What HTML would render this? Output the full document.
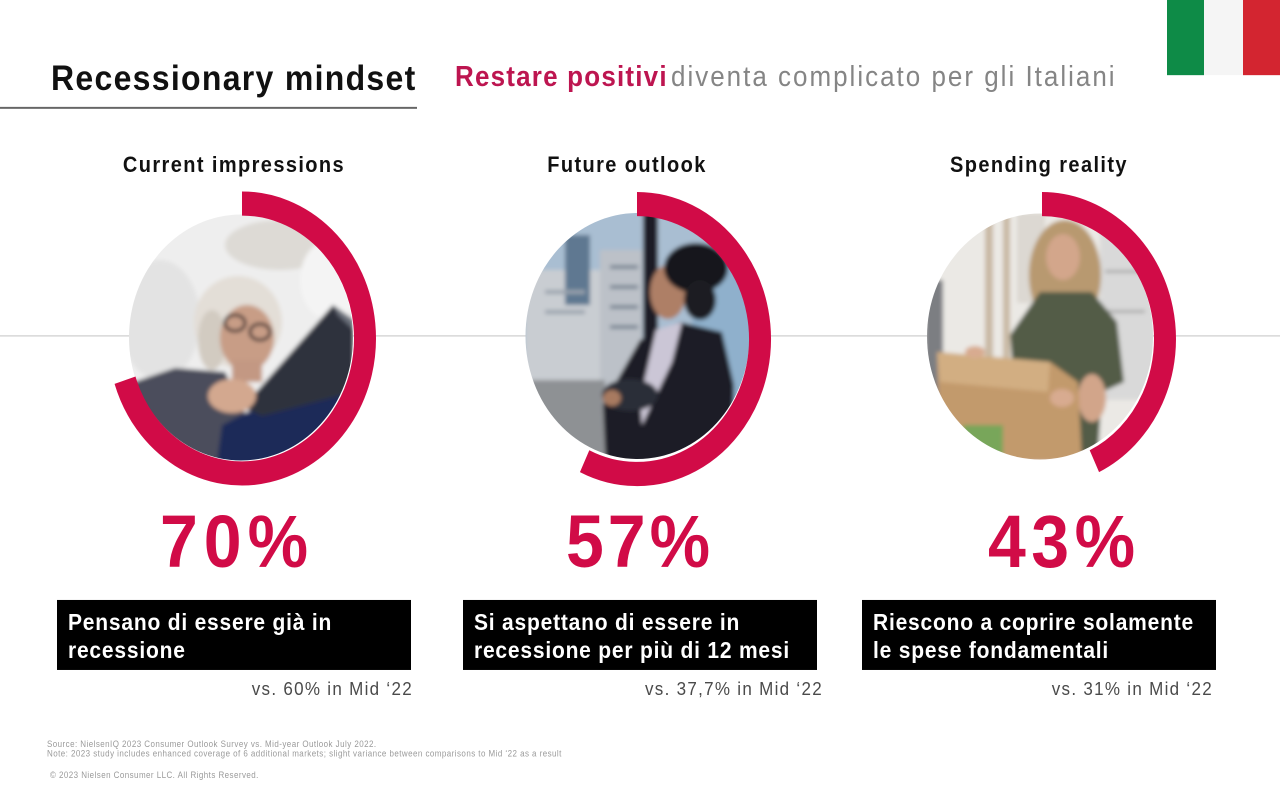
<!DOCTYPE html>
<html>
<head>
<meta charset="utf-8">
<style>
html,body{margin:0;padding:0;background:#fff;width:1280px;height:790px;overflow:hidden}
svg{display:block}
</style>
</head>
<body>
<svg width="1280" height="790" viewBox="0 0 1280 720" preserveAspectRatio="none" xmlns="http://www.w3.org/2000/svg" font-family="Liberation Sans, Arial, sans-serif">
  <defs>
    <filter id="bl" x="-10%" y="-10%" width="120%" height="120%">
      <feGaussianBlur stdDeviation="2.2"/>
    </filter>
    <clipPath id="c1"><ellipse cx="241" cy="337.5" rx="112" ry="123"/></clipPath>
    <clipPath id="c2"><ellipse cx="637.5" cy="336" rx="112" ry="123"/></clipPath>
    <clipPath id="c3"><ellipse cx="1040" cy="336.5" rx="113" ry="123"/></clipPath>
  </defs>

  <rect x="0" y="0" width="1280" height="720" fill="#ffffff"/>

  <!-- flag -->
  <rect x="1167" y="0" width="37" height="68.5" fill="#0e8b47"/>
  <rect x="1204" y="0" width="39" height="68.5" fill="#f5f5f5"/>
  <rect x="1243" y="0" width="37" height="68.5" fill="#d32530"/>

  <!-- title -->
  <text x="51" y="82" font-size="32" font-weight="bold" fill="#111" letter-spacing="1.3">Recessionary mindset</text>
  <rect x="0" y="97.4" width="417" height="1.8" fill="#666"/>
  <text x="455" y="78.4" font-size="26" font-weight="bold" fill="#bd1550" letter-spacing="1.2">Restare positivi</text>
  <text x="671" y="78.4" font-size="26" fill="#858585" letter-spacing="2">diventa complicato per gli Italiani</text>

  <!-- column headers -->
  <text x="234" y="156.8" font-size="20" font-weight="bold" fill="#111" text-anchor="middle" letter-spacing="1.4">Current impressions</text>
  <text x="627" y="156.8" font-size="20" font-weight="bold" fill="#111" text-anchor="middle" letter-spacing="1.4">Future outlook</text>
  <text x="1039" y="156.8" font-size="20" font-weight="bold" fill="#111" text-anchor="middle" letter-spacing="1.4">Spending reality</text>

  <!-- horizontal gray line -->
  <rect x="0" y="305.4" width="1280" height="1.4" fill="#d8d8d8"/>

  <!-- photos drawn in 790-space -->
  <g transform="scale(1,0.911392)">
    <!-- Photo 1 -->
    <g clip-path="url(#c1)">
      <g filter="url(#bl)">
        <rect x="120" y="205" width="250" height="270" fill="#eeeeee"/>
        <ellipse cx="280" cy="245" rx="55" ry="25" fill="#dddad5"/>
        <ellipse cx="160" cy="320" rx="40" ry="60" fill="#e3e3e3"/>
        <ellipse cx="330" cy="280" rx="30" ry="40" fill="#f4f4f4"/>
        <ellipse cx="238" cy="322" rx="44" ry="46" fill="#e3ded7"/>
        <ellipse cx="212" cy="340" rx="14" ry="30" fill="#d2cbc1"/>
        <ellipse cx="247" cy="338" rx="27" ry="33" fill="#c89d86"/>
        <ellipse cx="235" cy="323" rx="10" ry="8" fill="none" stroke="#3a2f2f" stroke-width="3"/>
        <ellipse cx="260" cy="332" rx="10" ry="8" fill="none" stroke="#3a2f2f" stroke-width="3"/>
        <rect x="232" y="360" width="30" height="22" fill="#c39883"/>
        <polygon points="125,385 175,368 225,372 258,440 252,475 125,475" fill="#4b4e5c"/>
        <polygon points="222,425 300,385 365,360 365,475 215,475" fill="#1e2c58"/>
        <polygon points="243,407 333,305 354,320 354,392 262,416" fill="#2f333e"/>
        <polygon points="333,305 354,320 354,330 338,315" fill="#6a6f7a"/>
        <ellipse cx="232" cy="396" rx="24" ry="17" fill="#d3a88f"/>
      </g>
    </g>

    <!-- Photo 2 -->
    <g clip-path="url(#c2)">
      <g filter="url(#bl)">
        <rect x="520" y="205" width="240" height="270" fill="#a9bed2"/>
        <rect x="525" y="270" width="80" height="200" fill="#c9cdd2"/>
        <rect x="565" y="235" width="25" height="70" fill="#5f7891"/>
        <rect x="600" y="250" width="42" height="220" fill="#bcc1c8"/>
        <rect x="610" y="265" width="28" height="4" fill="#7d8896"/>
        <rect x="610" y="285" width="28" height="4" fill="#7d8896"/>
        <rect x="610" y="305" width="28" height="4" fill="#7d8896"/>
        <rect x="610" y="325" width="28" height="4" fill="#7d8896"/>
        <rect x="545" y="290" width="40" height="4" fill="#9aa3ad"/>
        <rect x="545" y="310" width="40" height="4" fill="#9aa3ad"/>
        <rect x="643" y="205" width="15" height="200" fill="#1c1f25"/>
        <rect x="692" y="255" width="65" height="215" fill="#8fb0cc"/>
        <rect x="525" y="380" width="80" height="90" fill="#8e9194"/>
        <polygon points="603,405 640,340 680,322 722,332 734,385 732,470 606,470" fill="#1c1e27"/>
        <polygon points="656,330 682,322 672,362 642,425 640,400" fill="#cbc6d6"/>
        <ellipse cx="630" cy="395" rx="28" ry="16" fill="#2b2d37"/>
        <ellipse cx="612" cy="398" rx="9" ry="8" fill="#a87a60"/>
        <ellipse cx="668" cy="292" rx="18" ry="27" fill="#ae7f66"/>
        <ellipse cx="696" cy="268" rx="32" ry="25" fill="#16181c"/>
        <ellipse cx="700" cy="300" rx="16" ry="20" fill="#1a1c20"/>
      </g>
    </g>

    <!-- Photo 3 -->
    <g clip-path="url(#c3)">
      <g filter="url(#bl)">
        <rect x="920" y="205" width="240" height="270" fill="#ebe9e5"/>
        <rect x="985" y="215" width="8" height="250" fill="#c9b9a4"/>
        <rect x="1003" y="215" width="7" height="250" fill="#c9b9a4"/>
        <rect x="1017" y="213" width="28" height="90" fill="#dcd8d2"/>
        <rect x="925" y="280" width="18" height="140" fill="#7c7e82"/>
        <rect x="1100" y="230" width="55" height="170" fill="#d9d9d9"/>
        <rect x="1105" y="270" width="40" height="3" fill="#aaaaaa"/>
        <rect x="1105" y="310" width="40" height="3" fill="#aaaaaa"/>
        <ellipse cx="1065" cy="275" rx="36" ry="55" fill="#b8996f"/>
        <ellipse cx="1063" cy="257" rx="17" ry="23" fill="#d3a68b"/>
        <polygon points="1010,335 1040,292 1092,292 1117,322 1124,382 1102,392 1098,452 1040,462 1012,360" fill="#525b46"/>
        <ellipse cx="1092" cy="398" rx="14" ry="24" fill="#d2a58a"/>
        <polygon points="937,352 1050,362 1078,382 1082,462 940,462" fill="#c29a6c"/>
        <polygon points="937,352 1050,362 1048,392 940,382" fill="#d2ae82"/>
        <rect x="963" y="425" width="40" height="35" fill="#78a65a"/>
        <ellipse cx="1062" cy="398" rx="12" ry="9" fill="#d8ab90"/>
        <ellipse cx="975" cy="352" rx="10" ry="6" fill="#d8ab90"/>
      </g>
    </g>
  </g>

  <!-- rings -->
  <path d="M242 185.5 A123 123 0 1 1 125.02 346.51" fill="none" stroke="#d10b47" stroke-width="22"/>
  <path d="M637 186 A123 123 0 1 1 584.63 420.29" fill="none" stroke="#d10b47" stroke-width="22"/>
  <path d="M1042 186 A123 123 0 0 1 1094.37 420.29" fill="none" stroke="#d10b47" stroke-width="22"/>

  <!-- percentages -->
  <text x="160" y="516.8" font-size="68" font-weight="bold" fill="#d10b47" letter-spacing="6">70%</text>
  <text x="566" y="516.8" font-size="68" font-weight="bold" fill="#d10b47" letter-spacing="4">57%</text>
  <text x="988" y="516.8" font-size="68" font-weight="bold" fill="#d10b47" letter-spacing="5.5">43%</text>

  <!-- black boxes -->
  <rect x="57" y="546.8" width="354" height="63.8" fill="#000"/>
  <rect x="463" y="546.8" width="354" height="63.8" fill="#000"/>
  <rect x="862" y="546.8" width="354" height="63.8" fill="#000"/>

  <g font-size="21" font-weight="bold" fill="#fff" letter-spacing="0.8">
    <text x="68" y="574.2">Pensano di essere già in</text>
    <text x="68" y="599.7">recessione</text>
    <text x="474" y="574.2">Si aspettano di essere in</text>
    <text x="474" y="599.7">recessione per più di 12 mesi</text>
    <text x="873" y="574.2">Riescono a coprire solamente</text>
    <text x="873" y="599.7">le spese fondamentali</text>
  </g>

  <!-- vs texts -->
  <g font-size="17" fill="#4a4a4a" letter-spacing="1.3" text-anchor="end">
    <text x="413" y="633.4">vs. 60% in Mid ‘22</text>
    <text x="823" y="633.4">vs. 37,7% in Mid ‘22</text>
    <text x="1213" y="633.4">vs. 31% in Mid ‘22</text>
  </g>

  <!-- footer -->
  <g font-size="8" fill="#9a9a9a" letter-spacing="0.45">
    <text x="47" y="680.8">Source: NielsenIQ 2023 Consumer Outlook Survey vs. Mid-year Outlook July 2022.</text>
    <text x="47" y="689.5">Note: 2023 study includes enhanced coverage of 6 additional markets; slight  variance between comparisons to Mid ‘22 as a result</text>
    <text x="50" y="709.1">© 2023 Nielsen Consumer LLC. All Rights Reserved.</text>
  </g>
</svg>
</body>
</html>
